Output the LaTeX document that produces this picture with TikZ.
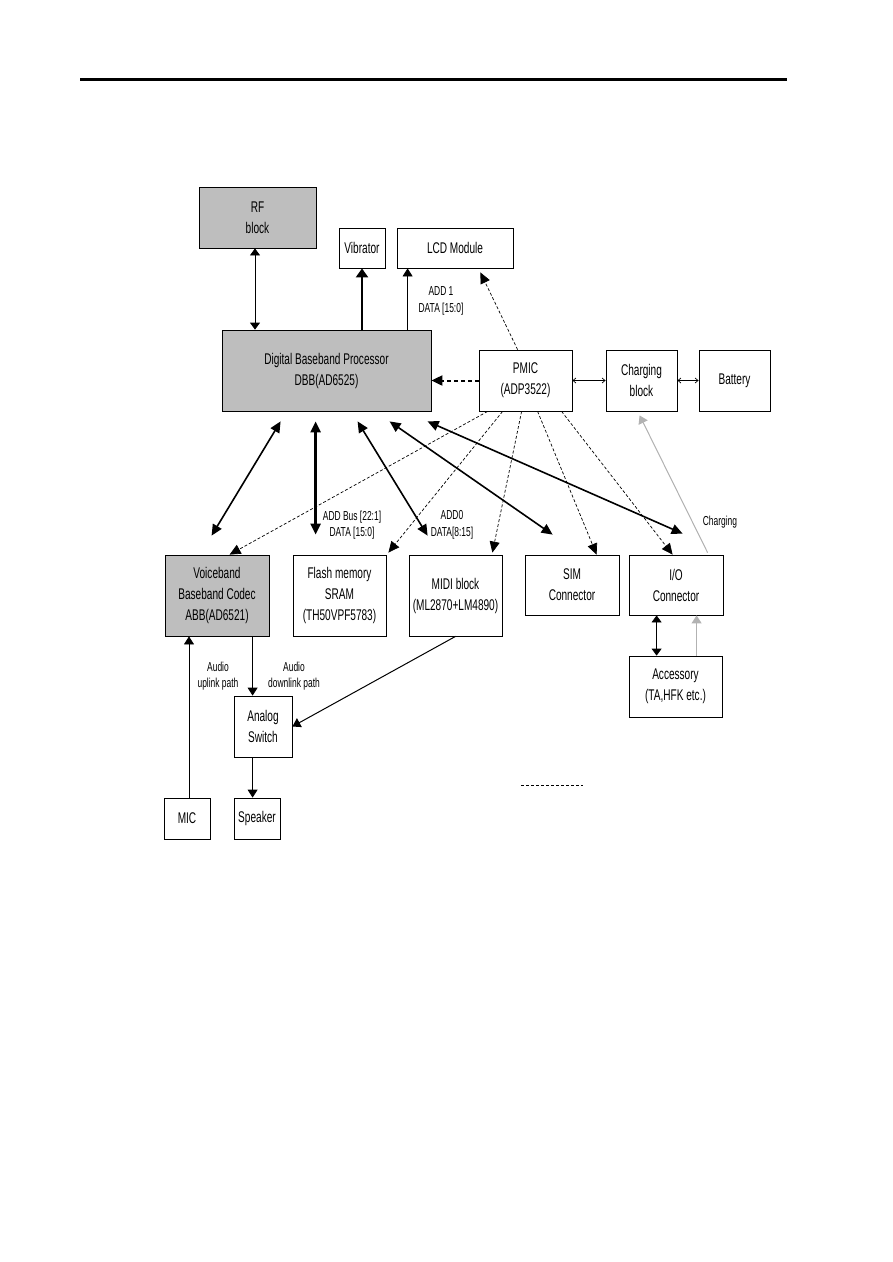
\documentclass[tikz,border=0pt]{standalone}
\usepackage{fontspec}
\setmainfont{Liberation Sans}[FakeStretch=0.65]
\usetikzlibrary{arrows.meta}

\definecolor{blockgray}{RGB}{190,190,190}
\definecolor{feedgray}{RGB}{178,178,178}

\begin{document}
\begin{tikzpicture}[x=1pt, y=-1pt,
	every node/.style={font=\fontsize{15.5}{21}\selectfont, align=center, inner sep=0pt},
	blk/.style 2 args={draw, line width=0.8pt, minimum width=#1pt, minimum height=#2pt},
	lbl/.style={font=\fontsize{13}{16.5}\selectfont},
	arr/.style={-{Triangle[length=8pt,width=10pt]}, line width=0.8pt},
	darr/.style={{Triangle[length=7pt,width=10pt]}-{Triangle[length=7pt,width=10pt]}, line width=0.8pt},
	bus/.style={{Triangle[length=11pt,width=10pt]}-{Triangle[length=11pt,width=10pt]}, line width=1.6pt},
	ctl/.style={-{Triangle[length=11pt,width=10pt]}, line width=0.7pt, dash pattern=on 3pt off 2pt},
	pwr/.style={{Straight Barb[length=3pt,width=5pt]}-{Straight Barb[length=3pt,width=5pt]}, line width=0.7pt},
	feed/.style={-{Triangle[length=8pt,width=10pt]}, draw=feedgray, fill=feedgray, line width=1pt}]
	\useasboundingbox (0,0) rectangle (893,1262);
	\draw[line width=3pt] (80,79) -- (787,79);

	\node[blk={117}{61}, fill=blockgray] (rf) at (257.5,217.5) {RF\\block};
	\node[blk={46}{40}] (vib) at (362,248) {Vibrator};
	\node[blk={116}{40}] (lcd) at (455,248) {LCD Module};
	\node[blk={209}{81}, fill=blockgray] (dbb) at (326.5,370.5) {Digital Baseband Processor\\DBB(AD6525)};
	\node[blk={93}{61}] (pmic) at (525.5,380.5) {PMIC\\(ADP3522)};
	\node[blk={71}{61}] (chg) at (641.5,380.5) {Charging\\block};
	\node[blk={71}{61}] (bat) at (734.5,380.5) {Battery};
	\node[blk={104}{81}, fill=blockgray] (abb) at (217,595.5) {Voiceband\\Baseband Codec\\ABB(AD6521)};
	\node[blk={93}{81}] (flash) at (339.5,595.5) {Flash memory\\SRAM\\(TH50VPF5783)};
	\node[blk={93}{81}] (midi) at (455.5,595.5) {MIDI block\\(ML2870+LM4890)};
	\node[blk={94}{60}] (sim) at (572,585) {SIM\\Connector};
	\node[blk={94}{60}] (io) at (676,585) {I/O\\Connector};
	\node[blk={93}{61}] (acc) at (675.5,686.5) {Accessory\\(TA,HFK etc.)};
	\node[blk={58}{61}] (asw) at (263,726.5) {Analog\\Switch};
	\node[blk={46}{41}] (mic) at (187,818.5) {MIC};
	\node[blk={46}{41}] (spk) at (257,818.5) {Speaker};

	\node[lbl] (addone) at (441,301) {ADD 1\\DATA [15:0]};
	\node[lbl] (addbus) at (352,525) {ADD Bus [22:1]\\DATA [15:0]};
	\node[lbl] (addzero) at (452,525) {ADD0\\DATA[8:15]};
	\node[lbl] (chglbl) at (720,522) {Charging};
	\node[lbl] (uplink) at (218,676) {Audio\\uplink path};
	\node[lbl] (downlink) at (294,676) {Audio\\downlink path};

	\draw[darr] ([xshift=-2.5pt]rf.south) -- ([xshift=-2.5pt]rf.south |- dbb.north);
	\draw[-{Triangle[length=9pt,width=12pt]}, line width=2.4pt] (vib.south |- dbb.north) -- (vib.south);
	\draw[arr] ([xshift=11pt]lcd.south west |- dbb.north) -- ([xshift=11pt]lcd.south west);
	\draw[ctl] ([xshift=39pt]pmic.north west) -- ([xshift=-33pt,yshift=-4pt]lcd.south east);
	\draw[ctl, line width=2pt, dash pattern=on 4pt off 3pt] (pmic.west) -- (pmic.west -| dbb.east);
	\draw[pwr] (pmic.east) -- (chg.west);
	\draw[pwr] (chg.east) -- (bat.west);

	\draw[bus] ([xshift=59pt,yshift=-10pt]dbb.south west) -- ([xshift=47pt,yshift=19pt]abb.north west);
	\draw[bus, line width=2.4pt] ([xshift=94pt,yshift=-10pt]dbb.south west) -- ([xshift=23pt,yshift=20pt]flash.north west);
	\draw[bus] ([xshift=136pt,yshift=-10pt]dbb.south west) -- ([xshift=19pt,yshift=19pt]midi.north west);
	\draw[bus] ([xshift=168pt,yshift=-10pt]dbb.south west) -- ([xshift=28pt,yshift=20pt]sim.north west);
	\draw[bus] ([xshift=206pt,yshift=-10pt]dbb.south west) -- ([xshift=54pt,yshift=21pt]io.north west);

	\draw[ctl] ([xshift=9pt]pmic.south west) -- ([xshift=65pt]abb.north west);
	\draw[ctl] ([xshift=24pt]pmic.south west) -- ([xshift=2pt,yshift=2pt]flash.north east);
	\draw[ctl] ([xshift=43pt]pmic.south west) -- ([xshift=-10pt,yshift=2pt]midi.north east);
	\draw[ctl] ([xshift=59pt]pmic.south west) -- ([xshift=72pt]sim.north west);
	\draw[ctl] ([xshift=83pt]pmic.south west) -- ([xshift=44pt]io.north west);

	\draw[feed] ([xshift=79pt,yshift=2pt]io.north west) -- ([xshift=34pt,yshift=-4pt]chg.south west);
	\draw[feed] ([xshift=68pt]acc.north west) -- ([xshift=68pt]io.south west);
	\draw[darr] ([xshift=28pt]io.south west) -- ([xshift=28pt]acc.north west);

	\draw[arr] ([xshift=2pt]mic.north) -- ([xshift=2pt]mic.north |- abb.south);
	\draw[arr] ([xshift=19pt]asw.north west |- abb.south) -- ([xshift=19pt]asw.north west);
	\draw[arr] ([xshift=19pt]asw.south west) -- ([xshift=19pt]asw.south west |- spk.north);
	\draw[arr, line width=1pt] (midi.south) -- (asw.east);

	\draw[line width=0.6pt, dash pattern=on 3pt off 2pt] (521,785) -- (583,785);
\end{tikzpicture}
\end{document}
